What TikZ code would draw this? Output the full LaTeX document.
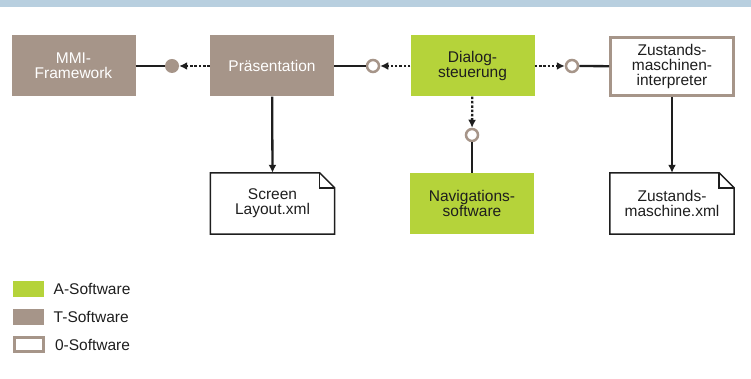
\documentclass[tikz,border=0pt]{standalone}
\usepackage{fontspec}
\setmainfont{Liberation Sans}
\usetikzlibrary{arrows.meta}

\definecolor{tsoft}{RGB}{166,149,137}
\definecolor{asoft}{RGB}{181,211,58}
\definecolor{band}{RGB}{184,207,223}
\definecolor{ink}{RGB}{30,30,30}

\tikzset{
  box/.style={minimum width=124pt, minimum height=61pt, inner sep=0pt,
    align=center, font=\fontsize{15.5}{15}\selectfont},
  tbox/.style={box, fill=tsoft, text=white},
  abox/.style={box, fill=asoft, text=ink},
  obox/.style={box, fill=white, draw=tsoft, line width=3pt,
    minimum width=123pt, minimum height=58pt, text=ink},
  filebox/.style={box, text=ink},
  fileline/.style={draw=ink, line width=1.5pt, line join=miter},
  plug/.style={circle, minimum size=12pt, inner sep=0pt, draw=tsoft,
    line width=2.5pt, fill=white},
  socket/.style={circle, minimum size=14pt, inner sep=0pt, fill=tsoft},
  wire/.style={draw=ink, line width=2.3pt},
  call/.style={draw=ink, line width=2.3pt, dash pattern=on 2.5pt off 1.8pt,
    -{Latex[length=8pt,width=8pt]}},
  flow/.style={wire, -{Latex[length=8pt,width=8pt]}},
  key/.style={minimum width=31pt, minimum height=16pt, inner sep=0pt},
  keytext/.style={anchor=west, text=ink, font=\fontsize{15.5}{15}\selectfont}
}

\begin{document}
\begin{tikzpicture}[x=1pt, y=1pt]
  \useasboundingbox (0,0) rectangle (751,379);
  % header band
  \fill[band] (0,372) rectangle (751,379);

  % components, top row
  \node[tbox] (mmi)    at (73.5,313)  {MMI-\\Framework};
  \node[tbox] (praes)  at (272,313)   {Präsentation};
  \node[abox] (dialog) at (472.5,313) {Dialog-\\steuerung};
  \node[obox] (zmi)    at (672,312.5) {Zustands-\\maschinen-\\interpreter};

  % bottom row
  \node[filebox] (screen) at (272.5,175.5) {Screen\\Layout.xml};
  \node[abox]    (nav)    at (472,175.5)   {Navigations-\\software};
  \node[filebox] (zm)     at (672,175.5)   {Zustands-\\maschine.xml};

  % xml files with folded corner
  \foreach \f in {screen,zm}{
    \draw[fileline] (\f.south west) |- ([xshift=-15pt]\f.north east)
      -- ([yshift=-15pt]\f.north east) |- cycle;
    \draw[fileline] ([xshift=-15pt]\f.north east) |- ([yshift=-15pt]\f.north east);
  }

  % interfaces
  \node[socket] (s1) at (172,313) {};
  \node[plug]   (p1) at (373,313) {};
  \node[plug]   (p2) at (572,313) {};
  \node[plug]   (p3) at (472,244) {};

  \draw[wire] (mmi) -- (s1);
  \draw[call] (praes) -- (s1);
  \draw[wire] (praes) -- (p1);
  \draw[call] (dialog) -- (p1);
  \draw[call] (dialog) -- (p2);
  \draw[wire] (p2) -- (zmi);
  \draw[call] (dialog) -- (p3);
  \draw[wire] (p3) -- (nav);

  % files
  \draw[flow] (praes) -- (screen.north);
  \draw[flow] (zmi) -- (zm.north);

  % legend
  \node[key, fill=asoft] (ka) at (28.5,90) {};
  \node[key, fill=tsoft] (kt) at (28.5,62) {};
  \node[key, fill=white, draw=tsoft, line width=3pt,
    minimum width=29pt, minimum height=14pt] (ko) at (28.5,34) {};
  \node[keytext] at ([xshift=6pt]ka.east) {A-Software};
  \node[keytext] at ([xshift=6pt]kt.east) {T-Software};
  \node[keytext] at ([xshift=7pt]ko.east) {0-Software};
\end{tikzpicture}
\end{document}
